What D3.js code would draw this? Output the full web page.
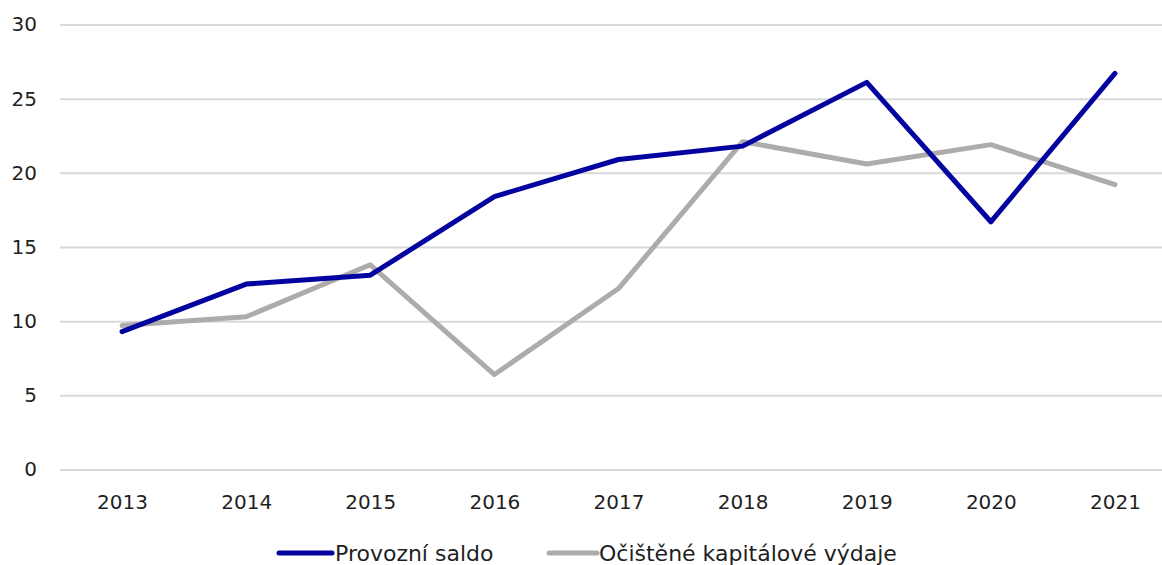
<!DOCTYPE html>
<html>
<head>
<meta charset="utf-8">
<script src="https://cdn.jsdelivr.net/npm/d3@7"></script>
<style>
  html, body { margin: 0; padding: 0; background: #fff; }
  svg text { font-family: "DejaVu Sans", sans-serif; fill: #1f1f1f; }
</style>
</head>
<body>
<svg id="chart" width="1162" height="565"></svg>
<script>
// Years on the x axis
const years = ["2013", "2014", "2015", "2016", "2017", "2018", "2019", "2020", "2021"];
// Series values (bn CZK)
const provozniSaldo = [9.3, 12.5, 13.1, 18.4, 20.9, 21.8, 26.1, 16.7, 26.7];
const kapitaloveVydaje = [9.7, 10.3, 13.8, 6.4, 12.2, 22.1, 20.6, 21.9, 19.2];
// Y axis ticks
const yTicks = [0, 5, 10, 15, 20, 25, 30];
const seriesNames = ["Provozní saldo", "Očištěné kapitálové výdaje"];
const seriesColors = ["#0303A0", "#AEABAB"];

const svg = d3.select("#chart");
const W = 1162;
const plotLeft = 60, plotRight = 1177;
const plotTop = 24.5, plotBottom = 469.5;
const FONT = "DejaVu Sans, sans-serif";

const x = d3.scalePoint().domain(years).range([plotLeft, plotRight]).padding(0.5);
const y = d3.scaleLinear().domain([0, 30]).range([plotBottom, plotTop]);

// Horizontal gridlines with value labels
const yAxis = d3.axisLeft(y).tickValues(yTicks).tickSize(-(W - plotLeft)).tickPadding(23).tickFormat(d3.format("d"));
const gy = svg.append("g").attr("transform", `translate(${plotLeft},0)`).call(yAxis);
gy.select(".domain").remove();
gy.selectAll(".tick line").attr("stroke", "#d9d9d9").attr("stroke-width", 2);
gy.selectAll(".tick text").attr("font-size", 20).attr("fill", "#1f1f1f").attr("font-family", FONT);

// Year labels
const xAxis = d3.axisBottom(x).tickSize(0).tickPadding(25);
const gx = svg.append("g").attr("transform", `translate(0,${plotBottom})`).call(xAxis);
gx.select(".domain").remove();
gx.selectAll(".tick text").attr("font-size", 20).attr("fill", "#1f1f1f").attr("font-family", FONT);

// Lines (grey first so the blue line sits on top)
const line = d3.line().x((d, i) => x(years[i])).y(d => y(d));
[[kapitaloveVydaje, seriesColors[1]], [provozniSaldo, seriesColors[0]]].forEach(([vals, color]) => {
  svg.append("path")
    .datum(vals)
    .attr("d", line)
    .attr("fill", "none")
    .attr("stroke", color)
    .attr("stroke-width", 5)
    .attr("stroke-linejoin", "round")
    .attr("stroke-linecap", "round");
});

// Legend
const legendItems = [
  { name: seriesNames[0], color: seriesColors[0], x0: 279, x1: 332, tx: 335 },
  { name: seriesNames[1], color: seriesColors[1], x0: 549, x1: 597, tx: 599 }
];
const lg = svg.append("g");
legendItems.forEach(it => {
  lg.append("line").attr("x1", it.x0).attr("x2", it.x1).attr("y1", 553).attr("y2", 553)
    .attr("stroke", it.color).attr("stroke-width", 5).attr("stroke-linecap", "round");
  lg.append("text").attr("x", it.tx).attr("y", 561).attr("font-size", 22).text(it.name);
});
</script>
</body>
</html>
